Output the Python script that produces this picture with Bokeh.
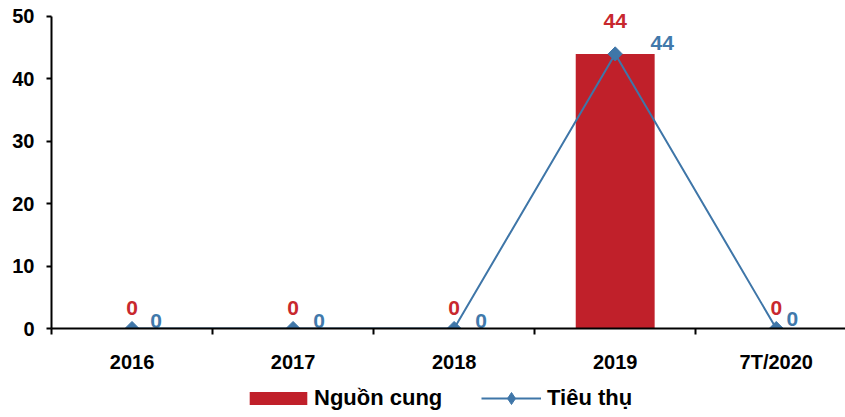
import math
from bokeh.plotting import figure
from bokeh.layouts import column
from bokeh.models import (ColumnDataSource, FixedTicker, Range1d, Legend, LegendItem)
from bokeh.core.properties import value
from bokeh.embed import file_html
from bokeh.resources import INLINE

categories = ["2016", "2017", "2018", "2019", "7T/2020"]
nguon_cung = [0, 0, 0, 44, 0]
tieu_thu = [0, 0, 0, 44, 0]
y_ticks = [0, 10, 20, 30, 40, 50]

RED = "#C0202A"
BLUE = "#3F76A8"
FONT = "Liberation Sans"

xs = list(range(len(categories)))

p = figure(width=845, height=380, output_backend="svg", toolbar_location=None,
           x_range=Range1d(-0.5, 4.43), y_range=Range1d(0, 52.4),
           min_border_left=51, min_border_right=0, min_border_top=1, min_border_bottom=52)
p.outline_line_color = None
p.xgrid.visible = False
p.ygrid.visible = False

src_bar = ColumnDataSource(dict(x=xs, y=nguon_cung, lab=[str(v) for v in nguon_cung],
                                yo=[-21, -21, -21, -33, -21]))
src_line = ColumnDataSource(dict(x=xs, y=tieu_thu, lab=[str(v) for v in tieu_thu],
                                 xo=[24, 26, 27, 47, 16], yo=[-8, -8, -8, -11, -10]))

bar_kw = dict(fill_color=RED, line_color=None)
line_kw = dict(line_color=BLUE, line_width=2)
pt_kw = dict(marker="square", angle=math.pi / 4, size=10, fill_color=BLUE, line_color=BLUE)

p.vbar(x="x", top="y", width=0.49, source=src_bar, **bar_kw)
p.line(x="x", y="y", source=src_line, **line_kw)
p.scatter(x="x", y="y", source=src_line, **pt_kw)

p.text(x="x", y="y", text="lab", source=src_bar, y_offset="yo",
       text_font=value(FONT), text_font_style="bold", text_font_size="21px",
       text_color="#C8282E", text_align="center", text_baseline="middle")
p.text(x="x", y="y", text="lab", source=src_line, x_offset="xo", y_offset="yo",
       text_font=value(FONT), text_font_style="bold", text_font_size="21px",
       text_color="#4179AB", text_align="center", text_baseline="middle")

# x axis
xa = p.xaxis[0]
xa.ticker = FixedTicker(ticks=xs, minor_ticks=[-0.5, 0.5, 1.5, 2.5, 3.5, 4.5])
xa.major_label_overrides = {i: c for i, c in enumerate(categories)}
xa.major_tick_out = 0
xa.major_tick_in = 0
xa.minor_tick_out = 6
xa.minor_tick_in = 0
xa.minor_tick_line_color = "black"
xa.minor_tick_line_width = 2
xa.axis_line_color = "black"
xa.axis_line_width = 2
xa.major_label_text_font = FONT
xa.major_label_text_font_style = "bold"
xa.major_label_text_font_size = "20px"
xa.major_label_text_color = "black"
xa.major_label_standoff = 16

ya = p.yaxis[0]
ya.ticker = FixedTicker(ticks=y_ticks, minor_ticks=[])
ya.bounds = (0, 50)
ya.major_tick_out = 5
ya.major_tick_in = 0
ya.major_tick_line_color = "black"
ya.major_tick_line_width = 2
ya.axis_line_color = "black"
ya.axis_line_width = 2
ya.major_label_text_font = FONT
ya.major_label_text_font_style = "bold"
ya.major_label_text_font_size = "20px"
ya.major_label_text_color = "black"
ya.major_label_standoff = 12

# legend strip
lg = figure(width=845, height=37, output_backend="svg", toolbar_location=None,
            x_range=Range1d(0, 1), y_range=Range1d(0, 1),
            min_border_left=0, min_border_right=0, min_border_top=0, min_border_bottom=0)
lg.outline_line_color = None
lg.axis.visible = False
lg.grid.visible = False
offscreen = ColumnDataSource(dict(x=[-10, -11], y=[-10, -11]))
lb = lg.vbar(x="x", top="y", width=0.5, source=offscreen, **bar_kw)
ll = lg.line(x="x", y="y", source=offscreen, **line_kw)
lp = lg.scatter(x="x", y="y", source=offscreen, marker="diamond",
                fill_color=BLUE, line_color=BLUE)

leg_style = dict(orientation="horizontal", padding=0, margin=0,
                 border_line_color=None, background_fill_alpha=0,
                 label_text_font=FONT, label_text_font_style="bold",
                 label_text_font_size="22px", label_text_color="black")
legend_a = Legend(items=[LegendItem(label="Nguồn cung", renderers=[lb])],
                  location=(191, 6), glyph_width=72, glyph_height=16,
                  label_standoff=0, **leg_style)
legend_b = Legend(items=[LegendItem(label="Tiêu thụ", renderers=[ll, lp])],
                  location=(430, 4), glyph_width=60, glyph_height=30,
                  label_standoff=6, **leg_style)
lg.add_layout(legend_a, "center")
lg.add_layout(legend_b, "center")

layout = column(p, lg, spacing=0)
open("out.html", "w").write(file_html(layout, INLINE))
